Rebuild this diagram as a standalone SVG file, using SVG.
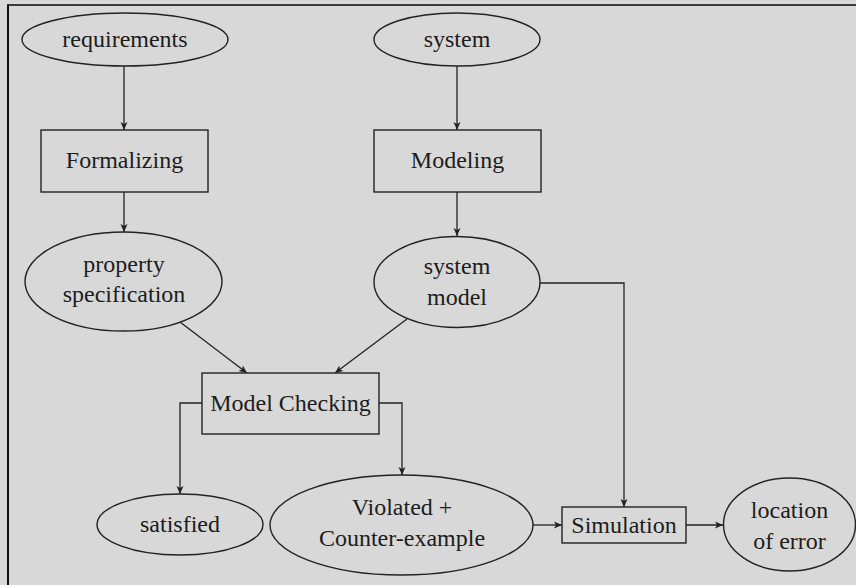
<svg xmlns="http://www.w3.org/2000/svg" width="856" height="585" viewBox="0 0 856 585">
  <style>
    .shape { fill: none; stroke: #222; stroke-width: 1.4; }
    .edge { fill: none; stroke: #222; stroke-width: 1.3; marker-end: url(#tip); }
    text { font-family: "Liberation Serif", "Times New Roman", serif; font-size: 24px; fill: #1c1c1c; text-anchor: middle; }
  </style>
  <defs>
    <marker id="tip" markerUnits="userSpaceOnUse" markerWidth="9" markerHeight="8" refX="8" refY="4" orient="auto">
      <path d="M0,0.5 L8,4 L0,7.5 L2,4 Z" fill="#222"/>
    </marker>
  </defs>

  <!-- canvas -->
  <rect x="0" y="0" width="856" height="585" fill="#d8d8d8"/>
  <line x1="7" y1="5" x2="856" y2="5" stroke="#3a3a3a" stroke-width="2"/>
  <line x1="8" y1="5" x2="8" y2="585" stroke="#111" stroke-width="2"/>

  <!-- connectors -->
  <g id="connectors">
    <path class="edge" d="M124,66 V130"/>
    <path class="edge" d="M124,192 V232"/>
    <path class="edge" d="M457,66 V130"/>
    <path class="edge" d="M457,192 V236"/>
    <path class="edge" d="M180,322 L247,373"/>
    <path class="edge" d="M407,319 L335,373"/>
    <path class="edge" d="M202,403 H180 V494"/>
    <path class="edge" d="M379,403 H402 V475"/>
    <path class="edge" d="M540,283 H624 V507"/>
    <path class="edge" d="M533,525 H562"/>
    <path class="edge" d="M686,525 H723"/>
  </g>

  <!-- nodes -->
  <g id="requirements">
    <ellipse class="shape" cx="125" cy="39.5" rx="103" ry="26.5"/>
    <text x="125" y="47">requirements</text>
  </g>
  <g id="system">
    <ellipse class="shape" cx="457" cy="39.5" rx="83" ry="26.5"/>
    <text x="457" y="47">system</text>
  </g>
  <g id="formalizing">
    <rect class="shape" x="41" y="130" width="167" height="62"/>
    <text x="124.5" y="168">Formalizing</text>
  </g>
  <g id="modeling">
    <rect class="shape" x="374" y="130" width="167" height="62"/>
    <text x="457.5" y="168">Modeling</text>
  </g>
  <g id="property-specification">
    <ellipse class="shape" cx="123.5" cy="281.5" rx="98.5" ry="49.5"/>
    <text x="124" y="272">property</text>
    <text x="124" y="302">specification</text>
  </g>
  <g id="system-model">
    <ellipse class="shape" cx="457" cy="282" rx="83" ry="45.5"/>
    <text x="457" y="274">system</text>
    <text x="457" y="305">model</text>
  </g>
  <g id="model-checking">
    <rect class="shape" x="202" y="373" width="177" height="61"/>
    <text x="290.5" y="411">Model Checking</text>
  </g>
  <g id="satisfied">
    <ellipse class="shape" cx="180" cy="524.5" rx="83" ry="30.5"/>
    <text x="180" y="532">satisfied</text>
  </g>
  <g id="violated">
    <ellipse class="shape" cx="401.5" cy="525" rx="131.5" ry="50"/>
    <text x="402" y="515">Violated +</text>
    <text x="402" y="546">Counter-example</text>
  </g>
  <g id="simulation">
    <rect class="shape" x="562" y="507" width="124" height="36"/>
    <text x="624" y="533">Simulation</text>
  </g>
  <g id="location-of-error">
    <ellipse class="shape" cx="789.5" cy="524.5" rx="66" ry="46.5"/>
    <text x="789.5" y="518">location</text>
    <text x="789.5" y="549">of error</text>
  </g>
</svg>
